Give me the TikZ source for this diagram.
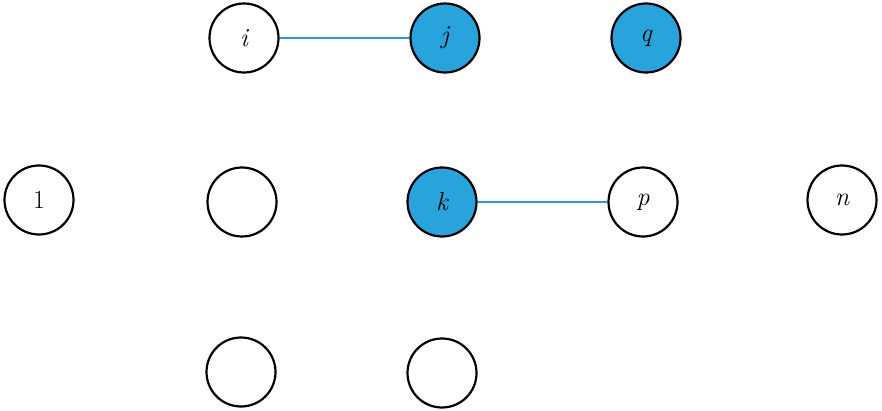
\documentclass[tikz,border=0pt]{standalone}
\usepackage{fontspec}
\usepackage{xcolor}
\definecolor{nblue}{RGB}{41,163,220}
\definecolor{eblue}{RGB}{40,155,210}
\begin{document}
\begin{tikzpicture}[x=1pt,y=-1pt,
  vert/.style={circle,draw=black,line width=2.2pt,minimum size=69pt,inner sep=0pt,font=\fontsize{26}{30}\selectfont\itshape},
  filled/.style={vert,fill=nblue},
  edge/.style={draw=eblue,line width=1.8pt}]
\useasboundingbox (0,0) rectangle (882,411);
\node[vert] (i) at (244,38) {i};
\node[filled] (j) at (445,38) {j};
\node[filled] (q) at (646,38) {q};
\node[vert] (one) at (39,200) {\upshape 1};
\node[vert] (m) at (242,202) {};
\node[filled] (k) at (442,202) {k};
\node[vert] (p) at (643,202) {p};
\node[vert] (n) at (842,200) {n};
\node[vert] (b1) at (241,372) {};
\node[vert] (b2) at (442,373) {};
\draw[edge] (i) -- (j);
\draw[edge] (k) -- (p);
\end{tikzpicture}
\end{document}
